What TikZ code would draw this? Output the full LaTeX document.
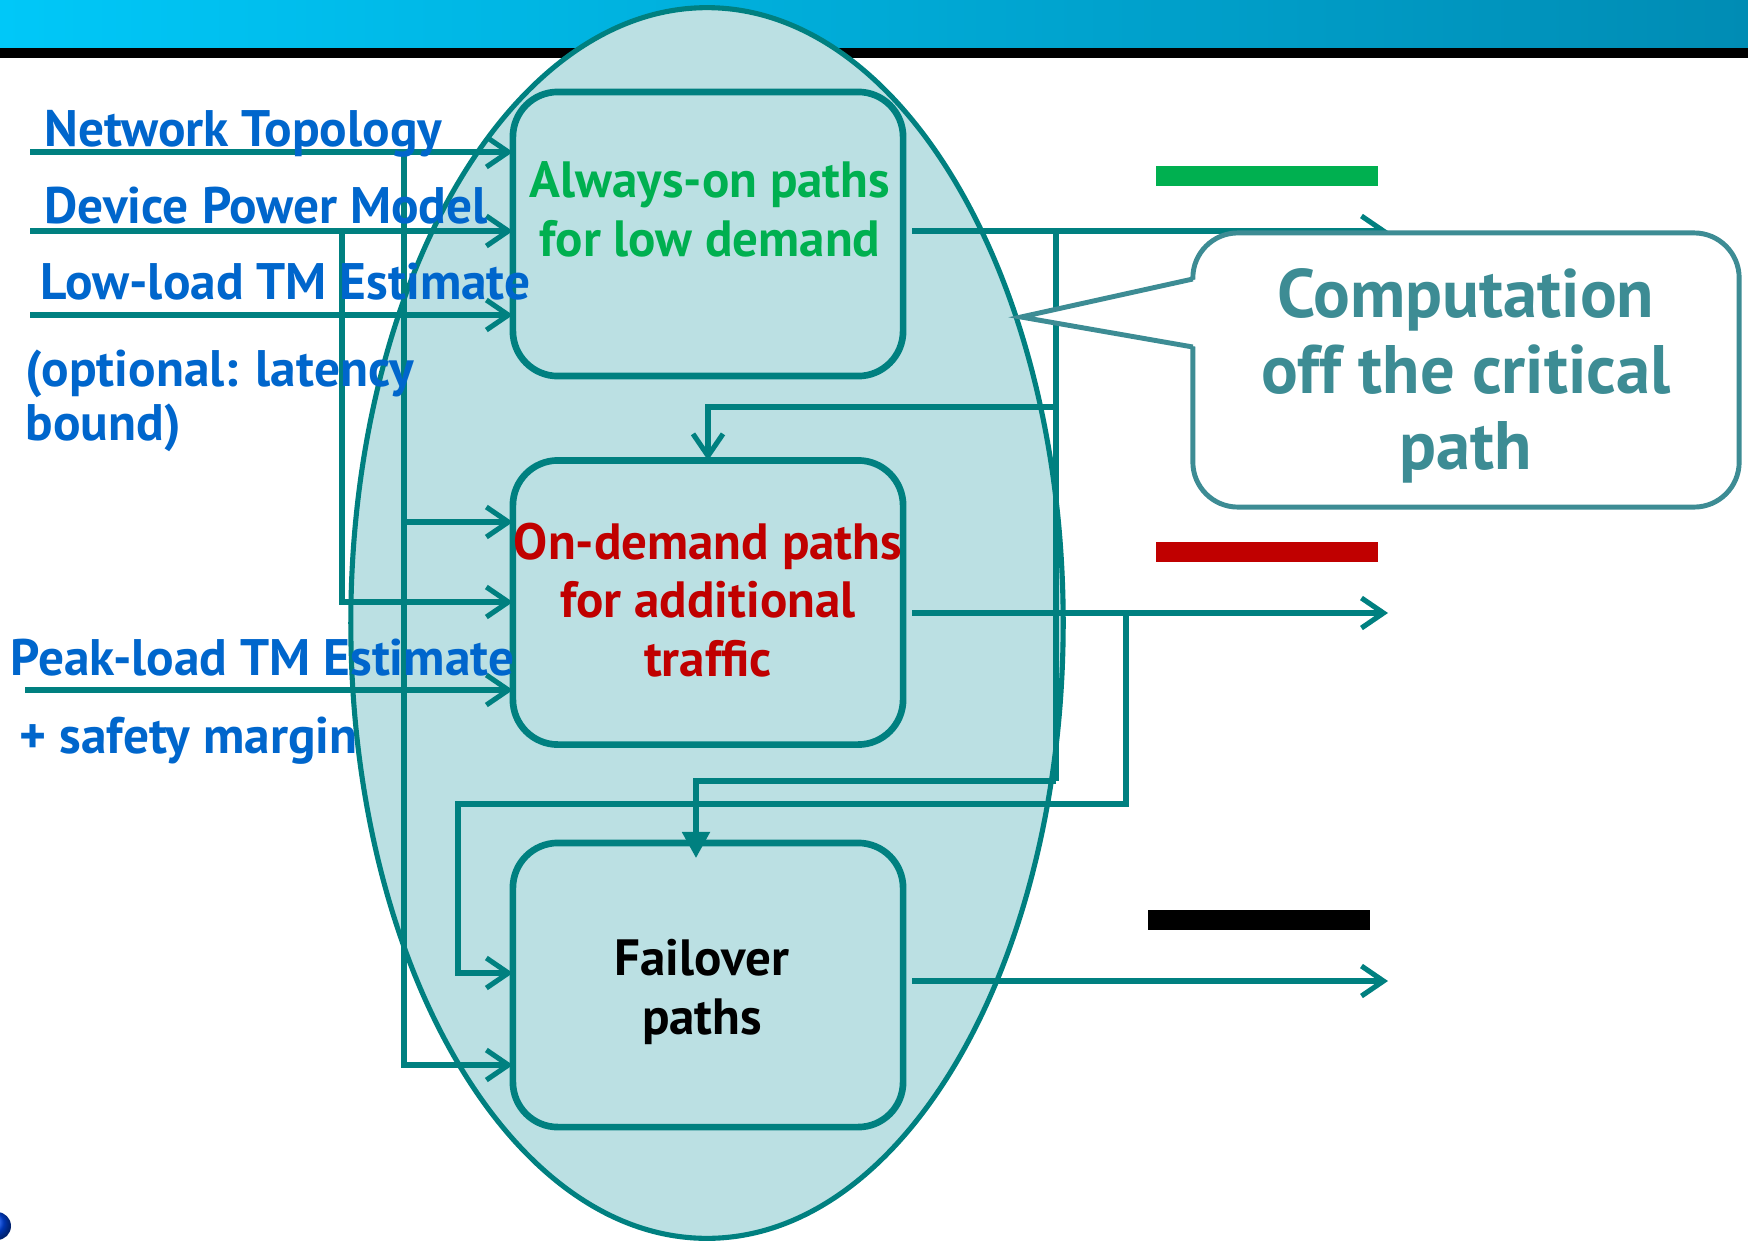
\documentclass[tikz,border=0pt]{standalone}
\usepackage{fontspec}
\setmainfont{PT Sans}
\usetikzlibrary{arrows.meta,shapes.geometric}

\definecolor{flowc}{RGB}{0,128,128}
\definecolor{cloudfill}{RGB}{187,224,227}
\definecolor{notec}{RGB}{61,140,148}
\definecolor{labelblue}{RGB}{0,102,204}
\definecolor{pathgreen}{RGB}{0,176,80}
\definecolor{pathred}{RGB}{192,0,0}
\definecolor{bandleft}{RGB}{0,200,248}
\definecolor{bandright}{RGB}{0,140,180}

\tikzset{
  wire/.style={draw=flowc, line width=1.45pt},
  flow/.style={wire, -{Straight Barb[length=0.22cm,width=0.3cm,line width=1.45pt]}},
  flowfill/.style={wire, -{Triangle[length=0.26cm,width=0.27cm]}},
  pathbox/.style={draw=flowc, line width=1.9pt, fill=cloudfill, rounded corners=0.45cm,
    minimum width=3.9cm, minimum height=2.84cm, inner sep=0pt, outer sep=0pt},
  boxtext/.style={font=\bfseries\fontsize{14.5pt}{16.5pt}\selectfont, align=center, anchor=base, inner sep=0pt},
  inlabel/.style={font=\bfseries\fontsize{14.6pt}{16.5pt}\selectfont, text=labelblue, anchor=base west, inner sep=0pt},
  notebox/.style={draw=notec, line width=1.4pt, fill=white, rounded corners=0.45cm,
    minimum width=5.46cm, minimum height=2.74cm, inner sep=0pt, outer sep=0pt},
  notetext/.style={font=\bfseries\fontsize{19.5pt}{21.6pt}\selectfont, text=notec, align=center, anchor=base, inner sep=0pt},
  legendbar/.style={inner sep=0pt, outer sep=0pt, minimum width=2.22cm, minimum height=0.2cm},
}

\begin{document}
\begin{tikzpicture}[x=0.01cm, y=-0.01cm]
\useasboundingbox (0,0) rectangle (1748,1242);

% header band
\shade[left color=bandleft, right color=bandright] (0,0) rectangle (1748,48);
\fill[black] (0,48) rectangle (1748,58);

% computation area
\node[ellipse, draw=flowc, line width=1.45pt, fill=cloudfill, inner sep=0pt,
      minimum width=7.12cm, minimum height=12.30cm] (cloud) at (707,623) {};

% path computation stages
\node[pathbox] (b1) at (708,234) {};
\node[pathbox] (b2) at (708,602.5) {};
\node[pathbox] (b3) at (708,985) {};

% inputs
\coordinate (in1) at (30,152);
\coordinate (in2) at (30,231);
\coordinate (in3) at (30,315);
\coordinate (in4) at (25,690);
\coordinate (ja) at (404,152);
\coordinate (jb) at (404,522);
\coordinate (jc) at (342,231);

\draw[flow] (in1) -- (in1 -| b1.west);
\draw[flow] (in2) -- (in2 -| b1.west);
\draw[flow] (in3) -- (in3 -| b1.west);
\draw[flow] (in4) -- (in4 -| b2.west);
\draw[flow] (ja) |- (b3.west |- 0,1065);
\draw[flow] (jb) -- (jb -| b2.west);
\draw[flow] (jc) |- (b2.west |- 0,602);

% outputs
\coordinate (o1) at (912,231);
\coordinate (o2) at (912,613);
\coordinate (o3) at (912,981);
\coordinate (e1) at (1388,231);
\coordinate (e2) at (1388,613);
\coordinate (e3) at (1388,981);
\draw[flow] (o1) -- (e1);
\draw[flow] (o2) -- (e2);
\draw[flow] (o3) -- (e3);

% feedback from always-on paths
\coordinate (jd) at (1056,231);
\coordinate (je) at (1056,407);
\coordinate (jf) at (1056,781);
\coordinate (f3) at (696,858);
\draw[wire] (jd) -- (jf);
\draw[flow] (je) -| (b2.north);
\draw[flowfill] (jf) -| (f3);

% feedback from on-demand paths
\coordinate (jg) at (1126,613);
\draw[flow] (jg) |- (458,804) |- (b3.west |- 0,973);

% legend bars
\node[legendbar, fill=pathgreen, anchor=north west] (g1) at (1156,166) {};
\node[legendbar, fill=pathred, anchor=north west] (g2) at (1156,542) {};
\node[legendbar, fill=black, anchor=north west] (g3) at (1148,910) {};

% box texts (anchored on the baseline of the last line)
\node[boxtext, text=pathgreen] (t1) at (710,256) {Always-on paths\\for low demand};
\node[boxtext, text=pathred] (t2) at (708,676) {On-demand paths\\for additional\\traffic};
\node[boxtext, text=black] (t3) at (702,1034) {Failover\\paths};

% input labels
\node[inlabel] (l1) at (44,146) {Network Topology};
\node[inlabel] (l2) at (44,223) {Device Power Model};
\node[inlabel] (l3) at (40,299) {Low-load TM Estimate};
\node[inlabel] (l4) at (25,386) {(optional: latency};
\node[inlabel] (l5) at (25,440) {bound)};
\node[inlabel] (l6) at (10,675) {Peak-load TM Estimate};
\node[inlabel] (l7) at (19,753) {+ safety margin};

% callout
\node[notebox] (note) at (1466,370) {};
\coordinate (tip) at (1021,317);
\fill[white] (1198,279) -- (tip) -- (1198,347) -- cycle;
\draw[notec, line width=1.4pt] (note.west |- 0,279) -- (tip) -- (note.west |- 0,347);
\node[notetext] (nt) at (1466,469) {Computation\\off the critical\\path};

% corner logo
\begin{scope}
  \clip (0,0) rectangle (1748,1242);
  \shade[ball color=blue!70!cyan] (-3,1226) circle (14);
\end{scope}
\end{tikzpicture}
\end{document}
